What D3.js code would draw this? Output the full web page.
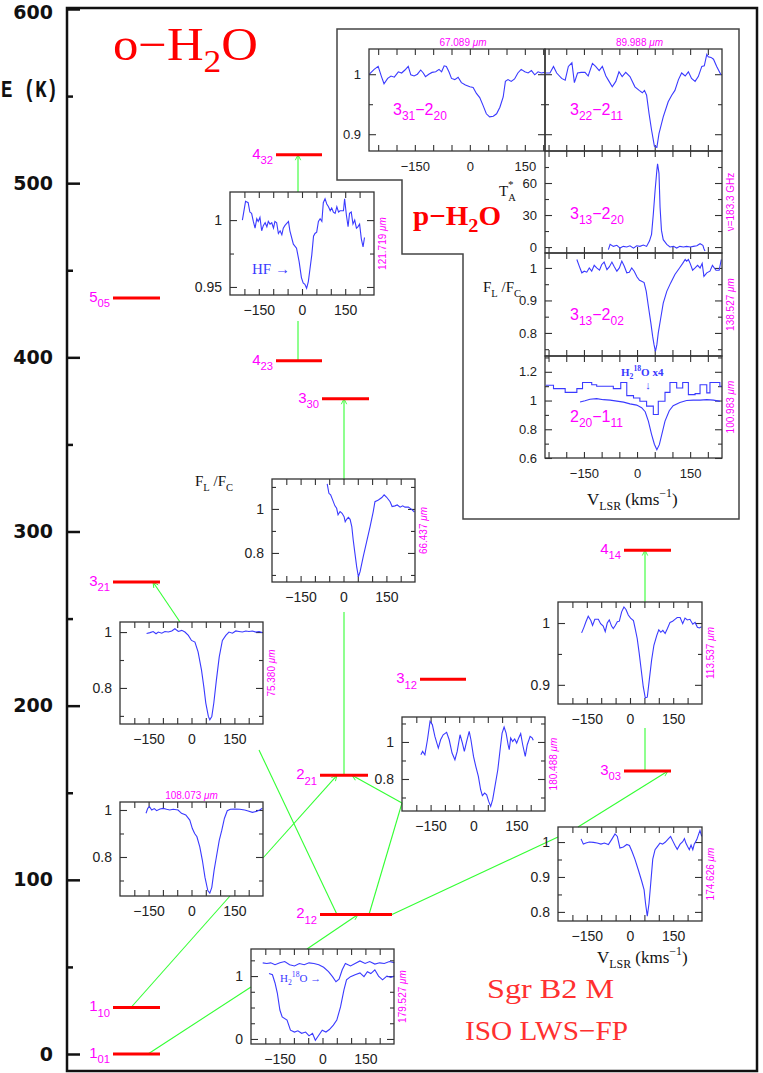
<!DOCTYPE html>
<html>
<head>
<meta charset="utf-8">
<script src="https://cdn.jsdelivr.net/npm/d3@7"></script>
<style>
body { margin: 0; background: #fff; }
svg { display: block; }
</style>
</head>
<body>
<script>
// ---- level diagram data (energies in K above 1_01) ----
var levelNames = ["1_01", "1_10", "2_12", "2_21", "3_03", "3_12", "3_21", "4_14", "3_30", "4_23", "5_05", "4_32"];
var levelE = [0, 26.7, 80.1, 160, 162.5, 215.1, 271, 289.3, 376.2, 398, 434, 516.3];
var eMajor = [0, 100, 200, 300, 400, 500, 600];
var eMinor = [50, 150, 250, 350, 450, 550];
var xTickLabels = [-150, 0, 150];

// ---- spectra (velocity km/s, flux ratio) ----
var v121719 = [-207,-196,-187,-181,-175,-169,-163,-157,-152,-146,-140,-134,-128,-122,-117,-111,-105,-99,-94,-88,-82,-76,-70,-65,-59,-47,-42,-30,-19,-10,-2,4,10,16,22,28,34,40,45,51,57,63,69,74,80,86,92,98,103,109,115,121,127,132,138,144,148,154,160,165,171,177,183,189,194,200,206,212,217];
var f121719 = [1.000,1.014,1.013,1.006,1.005,0.999,0.994,1.001,0.999,1.002,0.992,0.996,0.998,0.995,0.999,0.997,0.998,0.994,0.999,0.998,0.990,0.992,0.989,0.994,0.996,0.999,0.992,0.982,0.979,0.969,0.957,0.953,0.952,0.949,0.954,0.964,0.974,0.988,0.990,0.991,0.999,1.001,0.999,1.013,1.016,1.012,1.010,1.007,1.009,1.006,1.005,1.010,1.006,1.007,1.007,1.007,1.016,1.004,0.995,1.005,1.006,0.997,1.000,0.994,0.995,0.997,0.986,0.980,0.987];

var v66437 = [-57,-51,-45,-38,-30,-24,-19,-12,-5,2,6,11,17,23,29,34,40,46,52,58,69,81,93,104,110,122,134,142,151,163,170,180,188,198,207,215,227,238,248];
var f66437 = [1.114,1.071,1.064,1.041,1.014,1.003,0.973,0.988,0.980,0.965,0.942,0.953,0.962,0.953,0.920,0.859,0.798,0.738,0.692,0.715,0.783,0.851,0.920,0.988,1.033,1.041,1.052,1.064,1.053,1.033,1.011,1.014,1.018,1.008,1.014,1.008,1.008,0.998,0.986];

var v75380 = [-157,-145,-134,-124,-116,-104,-93,-81,-69,-58,-46,-34,-23,-11,0,12,23,35,43,50,59,64,71,78,87,97,108,120,131,143,155,166,178,190,201,213,225,236,248];
var f75380 = [0.995,0.998,1.002,0.994,1.000,0.996,1.002,1.000,1.004,1.012,1.002,1.006,1.000,0.988,0.970,0.964,0.929,0.864,0.805,0.746,0.698,0.686,0.698,0.746,0.828,0.911,0.970,0.988,1.000,0.996,1.004,1.002,1.000,1.004,1.002,1.004,1.000,1.002,0.998];

var v108073 = [-159,-153,-147,-139,-130,-122,-110,-99,-87,-76,-64,-47,-35,-20,-6,3,11,19,29,38,47,57,64,71,79,87,97,106,115,125,136,151,169,186,198,213,227,238,248];
var f108073 = [0.986,1.007,1.014,1.000,1.006,0.997,1.004,1.007,1.003,1.000,1.003,1.000,0.986,0.979,0.957,0.921,0.900,0.886,0.843,0.786,0.714,0.657,0.646,0.671,0.743,0.800,0.871,0.914,0.964,0.997,1.003,1.004,1.003,1.000,0.996,0.990,0.994,1.000,1.007];

var v180488 = [-184,-178,-170,-161,-152,-144,-135,-123,-115,-106,-94,-85,-75,-65,-57,-47,-39,-32,-24,-15,-9,0,8,17,25,31,39,46,53,60,67,75,85,93,100,107,114,121,125,130,137,144,151,158,165,172,181,188,198,205,209];
var f180488 = [0.931,0.949,0.931,1.012,1.111,1.094,1.030,0.967,1.012,1.039,1.052,1.012,0.940,0.904,0.949,1.039,0.995,0.949,1.003,1.057,1.012,0.922,0.868,0.814,0.742,0.710,0.724,0.715,0.679,0.652,0.688,0.760,0.850,0.958,1.048,1.081,1.048,0.985,0.958,1.022,1.003,1.016,0.994,1.022,1.045,0.985,0.922,0.985,1.030,1.022,1.009];

var v113537 = [-168,-160,-153,-145,-136,-130,-122,-110,-102,-93,-86,-79,-72,-64,-58,-51,-44,-37,-29,-21,-14,-6,2,12,18,25,32,39,46,53,60,67,75,83,93,100,107,114,122,130,139,148,156,164,174,183,191,199,208,218,226,234,241,248];
var f113537 = [0.984,0.993,1.002,1.011,1.004,0.996,1.006,1.006,0.999,0.995,0.986,1.000,1.005,0.995,0.991,0.996,1.002,1.003,1.018,1.026,1.022,1.013,1.008,1.004,0.991,0.975,0.951,0.924,0.897,0.879,0.880,0.908,0.940,0.964,0.980,0.989,0.985,0.988,0.983,0.991,1.001,1.003,1.006,1.009,1.009,0.999,1.008,1.005,1.006,0.998,1.001,0.993,0.992,0.994];

var v174626 = [-170,-162,-153,-141,-127,-114,-101,-89,-75,-64,-52,-44,-35,-23,-11,-2,7,17,29,41,49,54,60,66,72,79,87,95,104,113,123,133,141,148,156,164,174,183,189,194,200,206,212,218,223,232,239,243,249];
var f174626 = [1.009,0.994,0.997,1.000,0.999,0.997,0.994,0.997,0.993,1.007,1.023,1.016,0.983,0.986,0.993,0.990,0.973,0.951,0.920,0.887,0.863,0.824,0.788,0.824,0.882,0.951,0.978,0.987,0.997,0.994,1.000,1.009,1.016,1.004,0.991,0.979,0.994,1.001,1.010,0.997,0.987,0.978,0.991,0.978,0.994,1.007,1.024,1.033,1.016];

var v179527 = [-187,-175,-166,-158,-149,-141,-124,-112,-98,-86,-73,-59,-47,-35,-25,-13,-1,12,24,38,50,63,75,84,98,114,131,145,157,169,183,196,210,225,239,251];
var f179527 = [1.04,1.02,0.89,0.73,0.46,0.35,0.30,0.14,0.11,0.13,0.09,0.11,0.05,0.09,-0.02,0.06,0.14,0.11,0.15,0.22,0.30,0.51,0.78,0.94,0.99,1.02,1.05,0.99,1.07,1.04,1.10,1.00,0.94,1.00,0.98,1.00];
var v179527iso = [-209,-195,-181,-166,-149,-132,-115,-98,-81,-64,-47,-30,-13,4,21,35,47,58,69,80,98,114,131,149,165,183,200,216,234,251];
var f179527iso = [1.21,1.20,1.21,1.18,1.21,1.23,1.18,1.16,1.20,1.18,1.21,1.20,1.18,1.14,1.07,0.99,0.91,0.95,1.10,1.20,1.16,1.20,1.24,1.20,1.23,1.19,1.21,1.20,1.23,1.21];

// p-H2O inset
var v67089 = [-274,-261,-250,-241,-234,-224,-215,-206,-195,-186,-177,-168,-161,-152,-143,-134,-127,-121,-112,-103,-93,-84,-77,-70,-64,-57,-50,-41,-32,-23,-12,0,9,18,27,36,45,54,64,73,82,91,97,104,113,122,131,140,150,159,168,177,186,195,204];
var f67089 = [1.000,1.008,1.013,0.996,0.984,0.993,0.997,0.995,1.004,1.002,1.007,1.013,0.999,0.997,1.000,1.007,1.002,0.996,1.000,1.003,1.004,1.008,1.004,1.014,1.013,1.004,0.993,0.991,0.995,0.986,0.982,0.979,0.978,0.968,0.961,0.948,0.934,0.929,0.930,0.934,0.945,0.962,0.988,0.991,0.988,0.992,1.002,1.008,1.004,1.002,1.006,0.999,1.004,1.002,1.003];

var v89988 = [-257,-246,-236,-227,-213,-203,-194,-184,-177,-168,-158,-147,-138,-126,-117,-107,-98,-88,-79,-70,-60,-51,-42,-32,-20,-6,6,15,21,27,34,41,49,56,62,74,88,98,107,117,126,136,145,154,164,173,183,190,197,201,209,216,225,237];
var f89988 = [1.002,1.002,1.013,1.002,0.993,0.990,1.013,1.019,0.986,1.002,1.003,1.003,0.997,1.018,1.013,1.006,1.013,0.997,0.988,0.979,0.988,1.004,0.996,1.003,0.996,0.979,0.973,0.969,0.973,0.965,0.934,0.907,0.880,0.878,0.901,0.929,0.954,0.965,0.973,0.991,1.002,0.997,1.004,0.993,0.988,0.996,1.013,1.014,1.033,1.029,1.028,1.025,1.013,0.999];

var vTA = [-81,-76,-67,-57,-48,-39,-29,-20,-10,-1,8,18,27,35,41,46,51,56,58,62,65,69,74,84,93,103,112,121,131,140,150,159,169,178,186,189,192];
var tA = [-2.5,2.5,0.6,1.6,-1,0.6,0,1.2,-1,1.2,0.6,1.9,0.6,5.6,11.9,31,53,72,78,69,37.5,15.6,6.9,2.5,0,0.6,-1,0.6,0,0.6,0,0.6,1.2,3.1,1.6,-1.6,-3.7];

var v138527 = [-170,-163,-156,-149,-142,-135,-128,-121,-114,-106,-100,-93,-85,-78,-71,-65,-57,-50,-43,-36,-29,-22,-15,-8,0,7,13,20,26,32,39,44,48,52,56,60,67,74,84,95,107,120,129,136,140,145,150,157,164,171,178,184,189,197,206,213,223,232,238];
var f138527 = [1.026,1.005,0.985,0.990,0.987,1.000,0.990,1.008,1.000,0.993,1.010,1.018,0.995,1.004,1.018,1.005,0.990,1.000,1.021,1.005,0.985,0.987,1.000,0.990,0.972,0.962,0.959,0.955,0.928,0.882,0.831,0.790,0.764,0.743,0.764,0.800,0.846,0.892,0.928,0.954,0.980,1.000,1.014,1.026,1.021,1.026,1.014,0.993,1.000,1.008,1.000,1.014,0.974,0.985,0.990,1.008,0.993,0.993,1.026];

var v100983 = [-161,-147,-133,-114,-95,-76,-57,-38,-20,-1,13,23,32,41,49,56,63,70,79,91,102,121,140,159,178,197,216,234];
var f100983 = [0.990,0.999,1.009,1.013,1.006,1.003,0.996,0.989,0.977,0.968,0.950,0.922,0.857,0.765,0.696,0.658,0.693,0.765,0.857,0.929,0.964,0.987,1.000,1.003,1.003,1.006,1.003,0.994];
// H2-18O x4, binned (left bin edges)
var v18edges = [-258,-236,-203,-170,-154,-128,-114,-67,-46,-29,-10,8,27,46,60,79,93,112,129,145,164,178,197,206,234];
var f18x4 = [1.106,1.083,1.057,1.083,1.126,1.110,1.099,1.083,1.126,1.034,1.018,0.995,0.961,0.903,0.995,1.057,1.126,1.087,1.126,1.041,1.048,1.110,1.053,1.126,1.099];

// ---- layout ----
var W = 763, H = 1073;
var BLUE = "#3a3aff", MAG = "#ff00ff", RED = "#ff0000", GREEN = "#33ff33", INK = "#222";
var SANS = "'Liberation Sans', Arial, sans-serif";
var SERIF = "'Liberation Serif', 'Times New Roman', serif";

var svg = d3.select("body").append("svg").attr("width", W).attr("height", H);

var yE = d3.scaleLinear().domain([0, 600]).range([1054, 9]);
var levelAt = {};
levelNames.forEach(function (n, i) { levelAt[n] = levelE[i]; });

// bar extents (pixels) for each level
var levelBars = {
  "1_01": [113, 160], "1_10": [113, 160], "2_12": [320, 392], "2_21": [320, 368],
  "3_03": [624, 671], "3_12": [420, 466], "3_21": [113, 160], "4_14": [624, 671],
  "3_30": [322, 369], "4_23": [276, 322], "5_05": [113, 160], "4_32": [276, 322]
};

// text with _{sub} and ^{sup}
function rich(g, str, x, y, size, opt) {
  opt = opt || {};
  var t = g.append("text").attr("x", x).attr("y", y).style("font-size", size + "px");
  var off = 0;
  var subS = opt.sub || 0.32, supS = opt.sup || 0.42, rel = opt.rel || 0.7;
  str.replace(/_\{([^}]*)\}|\^\{([^}]*)\}|([^_^]+)/g, function (m, sub, sup, norm) {
    var target, fs, txt;
    if (sub !== undefined) { target = size * subS; fs = size * rel; txt = sub; }
    else if (sup !== undefined) { target = -size * supS; fs = size * rel; txt = sup; }
    else { target = 0; fs = size; txt = norm; }
    t.append("tspan").attr("dy", target - off).style("font-size", fs + "px").text(txt);
    off = target;
    return m;
  });
  return t;
}

// ---- outer frame and E axis ----
svg.append("rect").attr("x", 67).attr("y", 8).attr("width", 690).attr("height", 1063)
  .attr("fill", "none").attr("stroke", "#111").attr("stroke-width", 2.5);

var eAxis = svg.append("g").attr("transform", "translate(67,0)")
  .call(d3.axisLeft(yE).tickValues(eMajor).tickSizeInner(-13).tickSizeOuter(0).tickPadding(14).tickFormat(d3.format("d")));
eAxis.select(".domain").remove();
eAxis.selectAll(".tick line").attr("stroke", "#111").attr("stroke-width", 2.5);
eAxis.selectAll("text").style("font-family", "'DejaVu Sans', sans-serif").style("font-weight", "bold")
  .style("font-size", "19px").attr("fill", "#111")
  .attr("dy", function (d) { return d === 600 ? "0.5em" : "0.32em"; });
var eMinorAxis = svg.append("g").attr("transform", "translate(67,0)")
  .call(d3.axisLeft(yE).tickValues(eMinor).tickSizeInner(-6).tickSizeOuter(0).tickFormat(""));
eMinorAxis.select(".domain").remove();
eMinorAxis.selectAll(".tick line").attr("stroke", "#111").attr("stroke-width", 2.5);

svg.append("text").attr("x", 1).attr("y", 97)
  .style("font-family", "'Liberation Mono', 'Courier New', monospace").style("font-weight", "bold")
  .style("font-size", "23px").attr("fill", "#111").attr("textLength", 57).attr("lengthAdjust", "spacingAndGlyphs")
  .text("E (K)");

// titles
rich(svg, "o\u2212H_{2}O", 113, 60, 46, { sub: 0.25 })
  .style("font-family", SERIF).attr("fill", RED).attr("textLength", 145).attr("lengthAdjust", "spacingAndGlyphs");
rich(svg.append("g"), "Sgr B2 M", 487, 998, 28).style("font-family", SERIF).attr("fill", "#ff3030")
  .attr("textLength", 127).attr("lengthAdjust", "spacingAndGlyphs");
rich(svg.append("g"), "ISO LWS\u2212FP", 465, 1040, 28).style("font-family", SERIF).attr("fill", "#ff3030")
  .attr("textLength", 163).attr("lengthAdjust", "spacingAndGlyphs");

// ---- p-H2O inset frame ----
var insetPts = [[337, 29], [739, 29], [739, 519], [463, 519], [463, 254], [402, 254], [402, 180], [337, 180]];
svg.append("path").attr("d", d3.line()(insetPts) + "Z").attr("fill", "none")
  .attr("stroke", "#444").attr("stroke-width", 1.5);
rich(svg, "p\u2212H_{2}O", 413, 225, 27, { sub: 0.25 }).style("font-family", SERIF)
  .style("font-weight", "bold").attr("fill", RED).attr("textLength", 88).attr("lengthAdjust", "spacingAndGlyphs");

// ---- green transition connectors (drawn below panels) ----
svg.append("defs").append("marker").attr("id", "arr").attr("viewBox", "-8 -5 10 10")
  .attr("refX", 0).attr("refY", 0).attr("markerWidth", 9).attr("markerHeight", 9)
  .attr("markerUnits", "userSpaceOnUse").attr("orient", "auto")
  .append("path").attr("d", "M-6,-3L0,0L-6,3").attr("fill", "none").attr("stroke", GREEN).attr("stroke-width", 1);

var links = [
  [[{ lvl: "1_01", x: 148 }, [251, 987]], [[307, 949], { lvl: "2_12", x: 358 }]],
  [[{ lvl: "1_10", x: 131 }, [230, 896]], [[263, 858], { lvl: "2_21", x: 337 }]],
  [[{ lvl: "2_12", x: 337 }, [259, 750]], [[180, 622], { lvl: "3_21", x: 153 }]],
  [[{ lvl: "2_12", x: 369 }, [402, 803]], [[402, 803], { lvl: "2_21", x: 352 }]],
  [[{ lvl: "2_21", x: 344 }, [344, 612]], [[344, 480], { lvl: "3_30", x: 344 }]],
  [[{ lvl: "4_23", x: 298 }, [298, 321]], [[298, 192], { lvl: "4_32", x: 298 }]],
  [[{ lvl: "3_03", x: 645 }, [645, 728]], [[645, 602], { lvl: "4_14", x: 645 }]],
  [[{ lvl: "2_12", x: 392 }, [558, 837]], [[578, 827], { lvl: "3_03", x: 668 }]]
];
function pt(a) { return a.lvl ? [a.x, yE(levelAt[a.lvl])] : a; }
var linkG = svg.append("g");
links.forEach(function (segs) {
  segs.forEach(function (s, i) {
    var p0 = pt(s[0]), p1 = pt(s[1]);
    linkG.append("line").attr("x1", p0[0]).attr("y1", p0[1]).attr("x2", p1[0]).attr("y2", p1[1])
      .attr("stroke", GREEN).attr("stroke-width", 1.1)
      .attr("marker-end", i === segs.length - 1 ? "url(#arr)" : null);
  });
});

// ---- energy level bars ----
var lvG = svg.append("g");
levelNames.forEach(function (n) {
  var b = levelBars[n], yy = yE(levelAt[n]);
  lvG.append("line").attr("x1", b[0]).attr("x2", b[1]).attr("y1", yy).attr("y2", yy)
    .attr("stroke", RED).attr("stroke-width", 3);
  var parts = n.split("_");
  rich(lvG, parts[0] + "_{" + parts[1] + "}", b[0] - 3, yy + 4, 15, { sub: 0.35, rel: 0.75 })
    .attr("text-anchor", "end").style("font-family", SANS).attr("fill", MAG);
});

// ---- spectrum panels ----
var panels = [
  { x: 230, y: 192, w: 144, h: 103, xd: [-250, 250], yd: [0.944, 1.021], yt: [0.95, 0.975, 1], ylab: [0.95, 1],
    xlab: true, showY: true, wl: "121.719 \u03bcm", wlPos: "right",
    series: [{ v: v121719, f: f121719 }] },
  { x: 272, y: 479, w: 143, h: 103, xd: [-250, 250], yd: [0.668, 1.136], yt: [0.7, 0.8, 0.9, 1, 1.1], ylab: [0.8, 1],
    xlab: true, showY: true, wl: "66.437 \u03bcm", wlPos: "right",
    series: [{ v: v66437, f: f66437 }] },
  { x: 120, y: 622, w: 143, h: 102, xd: [-250, 250], yd: [0.671, 1.036], yt: [0.7, 0.8, 0.9, 1], ylab: [0.8, 1],
    xlab: true, showY: true, wl: "75.380 \u03bcm", wlPos: "right",
    series: [{ v: v75380, f: f75380 }] },
  { x: 120, y: 802, w: 143, h: 94, xd: [-250, 250], yd: [0.634, 1.034], yt: [0.7, 0.8, 0.9, 1], ylab: [0.8, 1],
    xlab: true, showY: true, wl: "108.073 \u03bcm", wlPos: "top", wlDx: 0,
    series: [{ v: v108073, f: f108073 }] },
  { x: 402, y: 717, w: 143, h: 94, xd: [-250, 250], yd: [0.627, 1.135], yt: [0.7, 0.8, 0.9, 1, 1.1], ylab: [0.8, 1],
    xlab: true, showY: true, wl: "180.488 \u03bcm", wlPos: "right",
    series: [{ v: v180488, f: f180488 }] },
  { x: 558, y: 602, w: 144, h: 102, xd: [-250, 250], yd: [0.869, 1.034], yt: [0.9, 0.95, 1], ylab: [0.9, 1],
    xlab: true, showY: true, wl: "113.537 \u03bcm", wlPos: "right",
    series: [{ v: v113537, f: f113537 }] },
  { x: 558, y: 827, w: 144, h: 94, xd: [-250, 250], yd: [0.774, 1.043], yt: [0.8, 0.85, 0.9, 0.95, 1], ylab: [0.8, 0.9, 1],
    xlab: true, showY: true, wl: "174.626 \u03bcm", wlPos: "right",
    series: [{ v: v174626, f: f174626 }] },
  { x: 251, y: 949, w: 143, h: 95, xd: [-250, 250], yd: [-0.08, 1.43], yt: [0, 0.25, 0.5, 0.75, 1, 1.25], ylab: [0, 1],
    xlab: true, showY: true, wl: "179.527 \u03bcm", wlPos: "right",
    series: [{ v: v179527, f: f179527 }, { v: v179527iso, f: f179527iso }] },
  // inset
  { x: 369, y: 49, w: 176, h: 102, xd: [-275, 205], yd: [0.872, 1.042], yt: [0.9, 0.95, 1], ylab: [0.9, 1],
    xlab: true, showY: true, wl: "67.089 \u03bcm", wlPos: "top", wlDx: 6, fs: 13,
    series: [{ v: v67089, f: f67089 }] },
  { x: 545, y: 49, w: 177, h: 102, xd: [-260, 240], yd: [0.872, 1.042], yt: [0.9, 0.95, 1], ylab: [0.9, 1],
    xlab: false, showY: false, wl: "89.988 \u03bcm", wlPos: "top", wlDx: 6, fs: 13,
    series: [{ v: v89988, f: f89988 }] },
  { x: 545, y: 151, w: 177, h: 102, xd: [-260, 240], yd: [-5.6, 90], yt: [0, 15, 30, 45, 60, 75], ylab: [0, 30, 60],
    xlab: false, showY: true, wl: "\u03bd=183.3 GHz", wlPos: "right", fs: 13,
    series: [{ v: vTA, f: tA }] },
  { x: 545, y: 253, w: 177, h: 103, xd: [-260, 240], yd: [0.729, 1.046], yt: [0.75, 0.8, 0.85, 0.9, 0.95, 1], ylab: [0.8, 0.9, 1],
    xlab: false, showY: true, wl: "138.527 \u03bcm", wlPos: "right", fs: 13,
    series: [{ v: v138527, f: f138527 }] },
  { x: 545, y: 356, w: 177, h: 102, xd: [-260, 240], yd: [0.6, 1.31], yt: [0.6, 0.7, 0.8, 0.9, 1, 1.1, 1.2, 1.3], ylab: [0.6, 0.8, 1, 1.2],
    xlab: true, showY: true, wl: "100.983 \u03bcm", wlPos: "right", fs: 13,
    series: [{ v: v100983, f: f100983 }, { v: v18edges.concat([240]), f: f18x4.concat([f18x4[f18x4.length - 1]]), step: true }] }
];

function wlText(g, str, x, y, rotate) {
  var t = g.append("text").attr("x", x).attr("y", y).attr("text-anchor", "middle")
    .style("font-family", SANS).style("font-size", "10px").attr("fill", MAG);
  var parts = str.split("\u03bc");
  t.append("tspan").text(parts[0]);
  if (parts.length > 1) t.append("tspan").style("font-style", "italic").text("\u03bc" + parts[1]);
  if (rotate) t.attr("transform", "rotate(-90," + x + "," + y + ")");
  return t;
}

function drawPanel(p) {
  var g = svg.append("g");
  var fs = p.fs || 14;
  var x = d3.scaleLinear().domain(p.xd).range([p.x, p.x + p.w]);
  var y = d3.scaleLinear().domain(p.yd).range([p.y + p.h, p.y]);
  var xt = d3.range(-250, 251, 50).filter(function (v) { return v > p.xd[0] + 2 && v < p.xd[1] - 2; });
  var isLab = function (v) { return p.ylab.some(function (l) { return Math.abs(l - v) < 1e-9; }); };
  var fmtX = function (v) { return p.xlab && xTickLabels.indexOf(v) >= 0 ? d3.format("d")(v) : ""; };
  var fmtY = function (v) { return p.showY && isLab(v) ? String(v) : ""; };

  var axes = [
    g.append("g").attr("transform", "translate(0," + (p.y + p.h) + ")")
      .call(d3.axisBottom(x).tickValues(xt).tickSizeInner(-6).tickSizeOuter(0).tickPadding(fs === 13 ? 11 : 10).tickFormat(fmtX)),
    g.append("g").attr("transform", "translate(0," + p.y + ")")
      .call(d3.axisTop(x).tickValues(xt).tickSizeInner(-6).tickSizeOuter(0).tickFormat("")),
    g.append("g").attr("transform", "translate(" + p.x + ",0)")
      .call(d3.axisLeft(y).tickValues(p.yt).tickSizeInner(-6).tickSizeOuter(0).tickPadding(8).tickFormat(fmtY)),
    g.append("g").attr("transform", "translate(" + (p.x + p.w) + ",0)")
      .call(d3.axisRight(y).tickValues(p.yt).tickSizeInner(-6).tickSizeOuter(0).tickFormat(""))
  ];
  axes.forEach(function (a) {
    a.select(".domain").remove();
    a.selectAll(".tick line").attr("stroke", "#333").attr("stroke-width", 1.1);
    a.selectAll("text").style("font-family", SANS).style("font-size", fs + "px").attr("fill", INK);
  });
  axes[2].selectAll(".tick line").attr("x2", function (d) { return isLab(d) ? 7 : 4; });
  axes[3].selectAll(".tick line").attr("x2", function (d) { return isLab(d) ? -7 : -4; });

  p.series.forEach(function (s) {
    var pts = s.v.map(function (v, i) { return [v, s.f[i]]; });
    var line = d3.line().x(function (d) { return x(d[0]); }).y(function (d) { return y(d[1]); });
    if (s.step) line.curve(d3.curveStepAfter);
    g.append("path").attr("d", line(pts)).attr("fill", "none").attr("stroke", BLUE).attr("stroke-width", 1.1);
  });

  g.append("rect").attr("x", p.x).attr("y", p.y).attr("width", p.w).attr("height", p.h)
    .attr("fill", "none").attr("stroke", "#333").attr("stroke-width", 1.3);

  if (p.wlPos === "right") wlText(g, p.wl, p.x + p.w + 12, p.y + p.h / 2, true);
  else wlText(g, p.wl, p.x + p.w / 2 + (p.wlDx || 0), p.y - 3, false);
}
panels.forEach(drawPanel);

// ---- annotations ----
var ann = svg.append("g");
function serifLabel(str, x, y, size, color) {
  return rich(ann, str, x, y, size, { sub: 0.3, sup: 0.45 }).style("font-family", SERIF).attr("fill", color || "#111");
}
serifLabel("F_{L} /F_{C}", 195, 486, 15);
serifLabel("F_{L} /F_{C}", 483, 292, 15);
// T_A with the star stacked above the subscript
serifLabel("T_{A}", 499, 196, 15);
ann.append("text").attr("x", 508).attr("y", 188).style("font-family", SERIF).style("font-size", "11px")
  .attr("fill", "#111").text("*");
serifLabel("V_{LSR} (kms^{\u22121})", 597, 963, 17);
serifLabel("V_{LSR} (kms^{\u22121})", 587, 505, 17);

// transition labels in the inset
var transLabels = ["3_{31}\u22122_{20}", "3_{22}\u22122_{11}", "3_{13}\u22122_{20}", "3_{13}\u22122_{02}", "2_{20}\u22121_{11}"];
var transPos = [[393, 115], [570, 115], [570, 219], [570, 320], [570, 422]];
transLabels.forEach(function (s, i) {
  rich(ann, s, transPos[i][0], transPos[i][1], 16, { sub: 0.3, rel: 0.75 }).style("font-family", SANS).attr("fill", MAG);
});

// blue notes
serifLabel("HF \u2192", 252, 274, 15, BLUE);
rich(ann, "H_{2}^{18}O \u2192", 280, 982, 11, { sub: 0.3, sup: 0.45 }).style("font-family", SERIF).attr("fill", BLUE);
rich(ann, "H_{2}^{18}O x4", 621, 376, 11, { sub: 0.3, sup: 0.45 }).style("font-family", SERIF)
  .style("font-weight", "bold").attr("fill", BLUE);
ann.append("text").attr("x", 648).attr("y", 389).attr("text-anchor", "middle")
  .style("font-family", SANS).style("font-size", "11px").attr("fill", BLUE).text("\u2193");
</script>
</body>
</html>
